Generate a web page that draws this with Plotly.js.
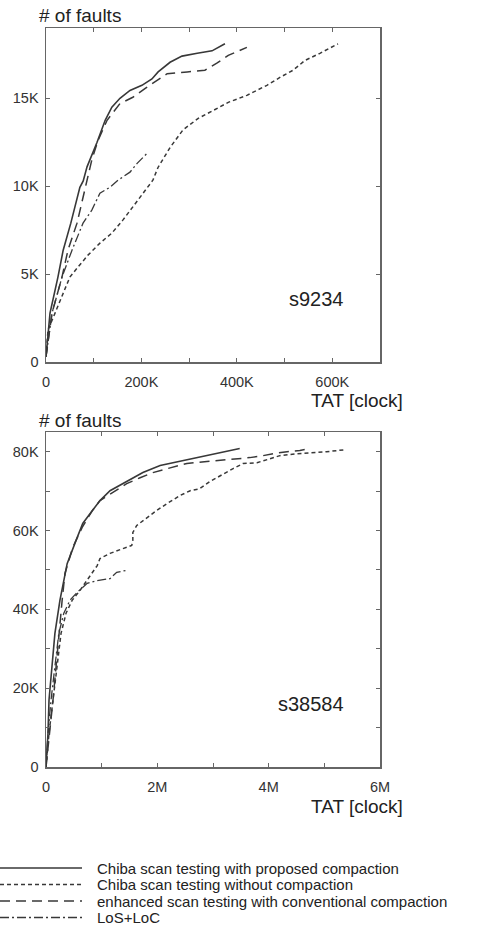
<!DOCTYPE html>
<html>
<head>
<meta charset="utf-8">
<script src="https://cdn.plot.ly/plotly-3.0.1.min.js"></script>
<style>html,body{margin:0;padding:0;background:#fff;}#chart{width:488px;height:928px;}</style>
</head>
<body>
<div id="chart"></div>
<script>
// ---------- s9234 (top panel) ----------
const s9234_proposed_x = [0, 8400, 25000, 36000, 52000, 71000, 78000, 86000, 107000, 124000, 138000, 155000, 176000, 201000, 222000, 235000, 260000, 285000, 317000, 348000, 375000];
const s9234_proposed_y = [300, 2780, 4830, 6360, 7900, 9940, 10300, 11100, 12500, 13750, 14500, 15000, 15450, 15740, 16100, 16500, 17050, 17400, 17560, 17700, 18100];

const s9234_without_x = [0, 4200, 18900, 35600, 50000, 67000, 88000, 113000, 138000, 161000, 180000, 203000, 224000, 235000, 260000, 287000, 319000, 350000, 382000, 421000, 463000, 491000, 518000, 543000, 574000, 612000];
const s9234_without_y = [300, 1820, 2780, 3920, 4830, 5400, 6080, 6760, 7330, 8070, 8750, 9600, 10340, 11080, 12200, 13200, 13860, 14300, 14770, 15170, 15740, 16200, 16600, 17160, 17560, 18100];

const s9234_enhanced_x = [0, 12600, 33500, 46000, 65000, 82000, 86000, 96000, 109000, 128000, 155000, 182000, 208000, 233000, 254000, 296000, 333000, 358000, 382000, 421000];
const s9234_enhanced_y = [300, 2780, 4830, 6360, 7900, 9940, 10300, 11500, 12600, 13750, 14700, 15060, 15570, 16000, 16400, 16500, 16600, 17000, 17440, 17900];

const s9234_los_x = [0, 12600, 33500, 54500, 77600, 96000, 113000, 134000, 151000, 176000, 191000, 214000];
const s9234_los_y = [300, 2780, 4830, 6360, 7900, 8640, 9600, 9940, 10340, 10800, 11300, 11930];

// ---------- s38584 (bottom panel) ----------
const s38584_proposed_x = [0, 36000, 54000, 108000, 160000, 250000, 380000, 540000, 660000, 830000, 970000, 1150000, 1380000, 1560000, 1740000, 2050000, 2280000, 2710000, 3070000, 3480000];
const s38584_proposed_y = [0, 8600, 17000, 25300, 33900, 42300, 51600, 57500, 61800, 65000, 67600, 70100, 71900, 73200, 74700, 76500, 77200, 78500, 79700, 80800];

const s38584_without_x = [0, 54000, 126000, 200000, 270000, 360000, 470000, 610000, 790000, 920000, 970000, 1150000, 1380000, 1540000, 1560000, 1560000, 1630000, 1810000, 1990000, 2170000, 2410000, 2590000, 2760000, 2940000, 3120000, 3360000, 3540000, 3790000, 4020000, 4200000, 4510000, 4740000, 5040000, 5370000];
const s38584_without_y = [0, 8600, 17000, 25300, 33900, 39000, 42300, 44800, 48600, 51100, 52900, 54200, 55400, 56200, 57500, 59500, 61300, 63300, 65100, 66800, 68900, 70100, 70600, 72400, 73900, 75700, 77000, 77200, 78200, 79000, 79500, 79700, 80000, 80500];

const s38584_enhanced_x = [0, 70000, 126000, 180000, 230000, 290000, 340000, 480000, 650000, 830000, 970000, 1240000, 1450000, 1690000, 1920000, 2230000, 2530000, 2890000, 3300000, 3660000, 3900000, 4080000, 4330000, 4560000, 4740000];
const s38584_enhanced_y = [0, 8600, 17000, 25300, 33900, 42300, 49100, 55700, 60800, 65000, 67600, 70100, 71900, 73400, 74700, 75900, 77000, 77500, 78000, 78500, 79000, 79500, 80000, 80300, 80800];

const s38584_los_x = [0, 36000, 90000, 160000, 230000, 320000, 430000, 560000, 610000, 740000, 920000, 1150000, 1270000, 1450000];
const s38584_los_y = [0, 8600, 17000, 25300, 33900, 39000, 42300, 44300, 45000, 46600, 47300, 47800, 49400, 49900];

// ---------- tick labels ----------
const top_x_tickvals = [0, 100000, 200000, 300000, 400000, 500000, 600000, 700000];
const top_x_ticktext = ['0', '', '200K', '', '400K', '', '600K', ''];
const top_y_tickvals = [0, 5000, 10000, 15000];
const top_y_ticktext = ['0', '5K', '10K', '15K'];
const bot_x_tickvals = [0, 1000000, 2000000, 3000000, 4000000, 5000000, 6000000];
const bot_x_ticktext = ['0', '', '2M', '', '4M', '', '6M'];
const bot_y_tickvals = [0, 10000, 20000, 30000, 40000, 50000, 60000, 70000, 80000];
const bot_y_ticktext = ['0', '', '20K', '', '40K', '', '60K', '', '80K'];

const seriesNames = ['Chiba scan testing with proposed compaction', 'Chiba scan testing without compaction', 'enhanced scan testing with conventional compaction', 'LoS+LoC'];
const circuitNames = ['s9234', 's38584'];

// ---------- styles ----------
const FONT = 'Liberation Sans, Arial, sans-serif';
const LINE = '#383838';
const AXIS = '#666666';
const dashes = ['solid', '4px,3px', '10px,6px', '9px,3px,2px,3px'];
const widths = [1.6, 1.5, 1.5, 1.3];

function tr(x, y, i, xa, ya) {
  return {x: x, y: y, type: 'scatter', mode: 'lines', xaxis: xa, yaxis: ya,
    line: {color: LINE, width: widths[i], dash: dashes[i]}, showlegend: false, hoverinfo: 'skip'};
}

const data = [
  tr(s9234_proposed_x, s9234_proposed_y, 0, 'x', 'y'),
  tr(s9234_without_x, s9234_without_y, 1, 'x', 'y'),
  tr(s9234_enhanced_x, s9234_enhanced_y, 2, 'x', 'y'),
  tr(s9234_los_x, s9234_los_y, 3, 'x', 'y'),
  tr(s38584_proposed_x, s38584_proposed_y, 0, 'x2', 'y2'),
  tr(s38584_without_x, s38584_without_y, 1, 'x2', 'y2'),
  tr(s38584_enhanced_x, s38584_enhanced_y, 2, 'x2', 'y2'),
  tr(s38584_los_x, s38584_los_y, 3, 'x2', 'y2')
];

const W = 488, H = 928;
const px = v => v / W;
const py = v => 1 - v / H;

function axisCommon() {
  return {showline: true, linecolor: AXIS, linewidth: 1.5, mirror: 'ticks', ticks: 'inside', ticklen: 4,
    tickwidth: 1, tickcolor: AXIS, showgrid: false, zeroline: false, tickmode: 'array',
    tickfont: {family: FONT, size: 14.5, color: '#333'}, fixedrange: true};
}

const layout = {
  width: W, height: H, margin: {l: 0, r: 0, t: 0, b: 0},
  paper_bgcolor: '#fff', plot_bgcolor: '#fff', showlegend: false,
  xaxis: Object.assign(axisCommon(), {domain: [px(46), px(380)], range: [0, 700000], anchor: 'y',
    tickvals: top_x_tickvals, ticktext: top_x_ticktext, ticklabelstandoff: 6}),
  yaxis: Object.assign(axisCommon(), {domain: [py(362), py(28)], range: [0, 19000], anchor: 'x',
    tickvals: top_y_tickvals, ticktext: top_y_ticktext, ticklabelstandoff: 3}),
  xaxis2: Object.assign(axisCommon(), {domain: [px(46), px(380)], range: [0, 6000000], anchor: 'y2',
    tickvals: bot_x_tickvals, ticktext: bot_x_ticktext, ticklabelstandoff: 6}),
  yaxis2: Object.assign(axisCommon(), {domain: [py(767), py(432)], range: [0, 85000], anchor: 'x2',
    tickvals: bot_y_tickvals, ticktext: bot_y_ticktext, ticklabelstandoff: 3}),
  annotations: [],
  shapes: []
};

const ann = layout.annotations;
// axis titles
[[15, 400], [420, 806]].forEach(function (p) {
  ann.push({text: '# of faults', xref: 'paper', yref: 'paper', x: px(37), y: py(p[0]), xanchor: 'left', yanchor: 'middle',
    showarrow: false, font: {family: FONT, size: 19, color: '#222'}});
  ann.push({text: 'TAT [clock]', xref: 'paper', yref: 'paper', x: px(357), y: py(p[1]), xanchor: 'center', yanchor: 'middle',
    showarrow: false, font: {family: FONT, size: 19, color: '#222'}});
});
// circuit labels
ann.push({text: circuitNames[0], xref: 'x', yref: 'y', x: 566000, y: 3600, showarrow: false,
  font: {family: FONT, size: 20, color: '#222'}});
ann.push({text: circuitNames[1], xref: 'x2', yref: 'y2', x: 4760000, y: 16000, showarrow: false,
  font: {family: FONT, size: 20, color: '#222'}});

// legend (drawn manually)
const rowY = [868, 884.5, 901, 917.5];
seriesNames.forEach(function (name, i) {
  layout.shapes.push({type: 'line', xref: 'paper', yref: 'paper', x0: 0, x1: px(82), y0: py(rowY[i]), y1: py(rowY[i]),
    line: {color: LINE, width: widths[i], dash: dashes[i]}});
  ann.push({text: name, xref: 'paper', yref: 'paper', x: px(96), y: py(rowY[i]), xanchor: 'left', yanchor: 'middle',
    showarrow: false, borderpad: 0, font: {family: FONT, size: 15, color: '#222'}});
});

Plotly.newPlot('chart', data, layout, {displayModeBar: false, staticPlot: true});
</script>
</body>
</html>
